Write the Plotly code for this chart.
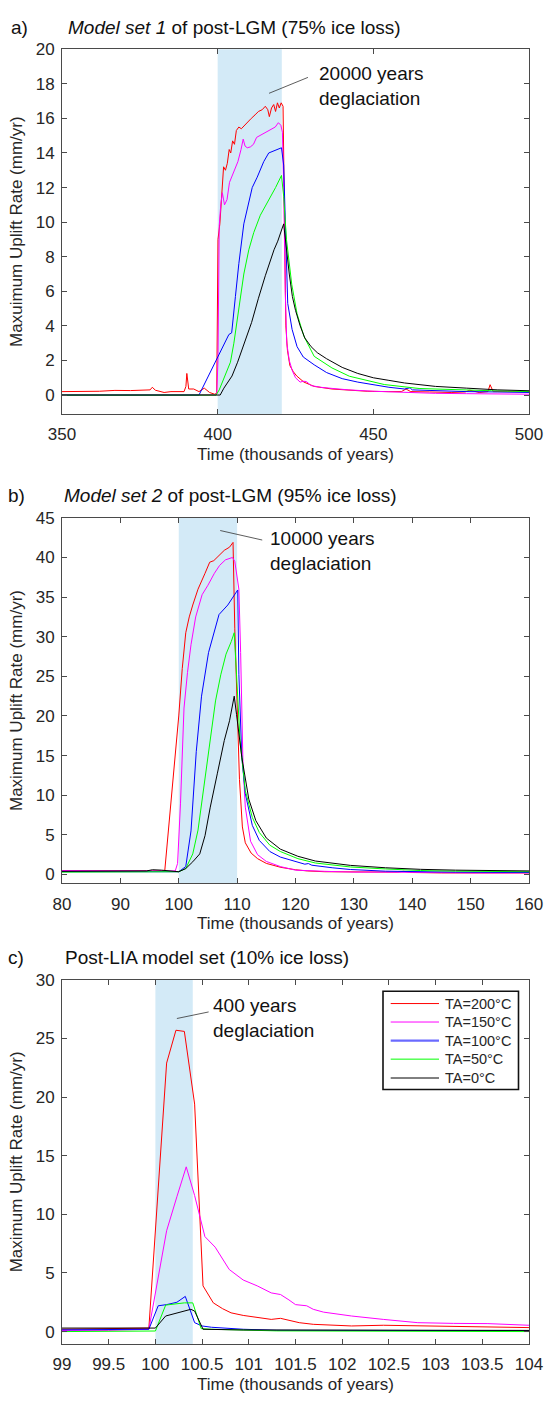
import plotly.graph_objects as go

FONT = "Liberation Sans, Arial, Helvetica, sans-serif"
LABELS = ["TA=200°C", "TA=150°C", "TA=100°C", "TA=50°C", "TA=0°C"]
COLORS = ["#ff0000", "#ff00ff", "#0000ff", "#00ff00", "#000000"]

# ---------------- Panel a: Model set 1 (x: thousands of years) ----------------
a_red_t = [350, 356, 362, 367, 372, 378.3, 379, 380, 382.8, 385, 389.2, 389.8, 390.1, 390.7, 392.3, 394, 395.7,
           397.4, 399, 399.7, 400.1, 400.7, 401.3, 401.9, 402.5, 403.1, 403.7, 404.2, 404.8, 405.4, 406, 406.8,
           407.6, 408.6, 409.6, 410.8, 412, 413.1, 414.3, 415.3, 416.1, 416.6, 417.3, 418, 418.6, 419.2, 419.8,
           420.4, 421.0, 421.4, 421.9, 422.4, 423.2, 424.3, 425.4, 427.7, 431, 436.7, 442, 448, 455, 459, 460.5,
           462, 468, 475, 479.5, 481, 484, 486.8, 487.5, 488.5, 493, 500]
a_red_v = [0.2, 0.2, 0.22, 0.27, 0.26, 0.3, 0.45, 0.28, 0.15, 0.2, 0.2, 0.5, 1.25, 0.35, 0.35, 0.2, 0.4,
           0.15, 0.05, 0.1, 9.0, 9.9, 11.8, 13.2, 13.0, 13.4, 14.2, 14.0, 14.7, 14.5, 15.3, 15.5,
           15.4, 15.6, 15.8, 16.0, 16.2, 16.4, 16.5, 16.7, 16.5, 16.1, 16.6, 16.8, 16.4, 16.9, 16.6,
           16.9, 16.7, 12.0, 4.0, 2.6, 1.7, 1.35, 1.1, 0.75, 0.5, 0.35, 0.28, 0.22, 0.2, 0.2, 0.35,
           0.2, 0.18, 0.15, 0.18, 0.28, 0.15, 0.2, 0.6, 0.2, 0.2, 0.2]

a_mag_t = [350, 399.7, 400.1, 400.5, 401.0, 401.5, 402.2, 403.0, 403.8, 404.5, 405.5, 406.5, 407.5, 408.2,
           408.8, 409.5, 410.5, 411.5, 412.5, 413.5, 414.5, 415.5, 416.5, 417.5, 418.5, 419.5, 420.3, 420.8,
           421.2, 421.7, 422.2, 423.0, 424.0, 425.0, 426.5, 427.5, 428.5, 430, 433, 437, 442, 450, 460, 470,
           480, 490, 500]
a_mag_v = [0.02, 0.02, 2.0, 9.8, 11.0, 11.7, 11.0, 11.3, 12.3, 12.6, 13.1, 13.5, 14.2, 14.8,
           14.4, 14.3, 14.35, 14.5, 14.9, 15.0, 15.1, 15.2, 15.3, 15.4, 15.5, 15.75, 15.6, 15.2,
           12.0, 6.0, 3.0, 2.0, 1.4, 1.0, 0.75, 0.8, 0.78, 0.55, 0.45, 0.38, 0.3, 0.22, 0.15, 0.1,
           0.08, 0.07, 0.05]

a_blu_t = [350, 394, 403.6, 404.5, 405.7, 406.8, 408.4, 409.6, 411.1, 412.7, 414.8, 416.4, 418.0, 419.5,
           420.5, 421.2, 421.8, 422.5, 423.9, 425.5, 427.5, 429.8, 431, 435, 440, 445, 450, 455, 460, 461.8,
           462.5, 470, 480, 490, 500]
a_blu_v = [0, 0, 3.5, 3.6, 5.7, 7.6, 9.9, 10.9, 12.0, 12.6, 13.5, 14.0, 14.1, 14.2,
           14.3, 13.3, 9.1, 5.3, 3.8, 2.8, 2.2, 1.9, 1.75, 1.3, 0.95, 0.75, 0.6, 0.45, 0.35, 0.42,
           0.3, 0.25, 0.2, 0.18, 0.15]

a_grn_t = [350, 399.5, 400.5, 402.0, 404.1, 405.2, 406.8, 408.4, 410, 411.6, 413.7, 415.9, 418.6, 420.5,
           421.2, 422.1, 423.8, 425.5, 427.7, 431, 436.7, 442.3, 453.5, 464.7, 476, 488, 500]
a_grn_v = [0, 0, 0.3, 1.0, 1.9, 3.0, 5.0, 7.0, 8.4, 9.4, 10.4, 11.1, 12.0, 12.7,
           11.5, 9.0, 6.4, 4.7, 3.4, 2.24, 1.57, 1.09, 0.61, 0.38, 0.3, 0.25, 0.2]

a_blk_t = [350, 400.8, 402, 403, 404.6, 406.4, 408.6, 410.9, 413.1, 415.3, 418.1, 419.3, 421.2, 422, 423,
           424, 425, 426.5, 428, 430, 432, 435, 440, 445, 450, 455, 460, 465, 470, 480, 490, 500]
a_blk_v = [0, 0, 0.4, 0.7, 1.1, 1.9, 3.0, 4.2, 5.6, 6.9, 8.4, 8.9, 9.9, 8.5, 7.0,
           5.7, 4.9, 4.0, 3.3, 2.8, 2.45, 2.1, 1.6, 1.25, 1.0, 0.85, 0.7, 0.6, 0.5, 0.4, 0.3, 0.25]

# ---------------- Panel b: Model set 2 ----------------
b_red_t = [80, 90, 95.5, 97.6, 100, 100.6, 101.2, 101.8, 102.4, 103.3, 104.5, 105.3, 106, 106.9, 107.8,
           108.7, 109.3, 109.6, 110.0, 110.4, 110.9, 111.4, 112.4, 113.5, 115, 117.5, 120, 122, 125, 130,
           135, 137.5, 138.5, 140, 145, 150, 155, 160]
b_red_v = [0.5, 0.5, 0.5, 0.45, 20.0, 26.0, 30.5, 32.5, 34.0, 36.0, 38.0, 39.4, 39.6, 40.3, 40.9,
           41.3, 41.9, 31.0, 20.0, 12.0, 6.0, 4.0, 2.7, 2.0, 1.4, 0.9, 0.6, 0.45, 0.35, 0.3,
           0.25, 0.3, 0.4, 0.25, 0.2, 0.2, 0.2, 0.2]

b_mag_t = [80, 90, 99.4, 99.8, 100.3, 100.9, 101.5, 102.1, 102.9, 104.0, 105.0, 106.1, 107.0, 108.0,
           109.2, 109.6, 110.0, 110.3, 110.6, 111.0, 111.4, 112.3, 113.5, 115, 117.4, 120, 125, 130, 135,
           140, 150, 160]
b_mag_v = [0.5, 0.5, 0.45, 1.4, 9.0, 21.0, 25.5, 29.0, 32.5, 35.3, 36.5, 38.0, 39.0, 39.7,
           40.0, 39.5, 37.5, 36.0, 28.0, 14.0, 8.5, 4.2, 2.5, 1.65, 1.0, 0.55, 0.4, 0.3, 0.3,
           0.25, 0.2, 0.2]

b_blu_t = [80, 90, 100, 101.2, 102.1, 103.0, 103.9, 105.1, 106.0, 106.9, 108.4, 109.6, 110.1, 110.3,
           110.8, 111.4, 112.6, 113.8, 115.6, 117.4, 119.2, 121.6, 122.2, 122.8, 126.4, 129.4, 135.4,
           141.4, 147.4, 160]
b_blu_v = [0.35, 0.35, 0.35, 1.0, 5.5, 15.5, 22.5, 28.0, 30.3, 32.8, 34.0, 35.3, 35.9, 25.2,
           14.8, 10.2, 6.2, 4.3, 2.9, 2.2, 1.8, 1.3, 1.38, 1.17, 0.84, 0.63, 0.42,
           0.33, 0.3, 0.25]

b_grn_t = [80, 90, 100, 101.2, 102.4, 103.3, 104.2, 105.1, 106.3, 107.2, 108.1, 109.0, 109.5, 109.9,
           110.5, 111.4, 112.6, 113.8, 115.6, 117.4, 120.4, 123.4, 129.4, 135.4, 141.4, 147.4, 160]
b_grn_v = [0.3, 0.3, 0.35, 0.75, 2.6, 5.6, 10.6, 15.6, 21.9, 25.2, 27.8, 29.4, 30.5, 25.2,
           16.9, 10.6, 7.2, 5.3, 3.7, 2.9, 2.0, 1.45, 0.95, 0.7, 0.5, 0.42, 0.35]

b_blk_t = [80, 90, 94.5, 95.5, 97, 100, 101.2, 102.4, 103.6, 104.5, 105.4, 106.6, 107.8, 108.7, 109.5,
           109.9, 110.8, 112, 113.2, 115, 117.4, 120.4, 123.4, 129.4, 135.4, 141.4, 147.4, 160]
b_blk_v = [0.4, 0.45, 0.45, 0.6, 0.55, 0.35, 0.75, 1.6, 2.6, 4.9, 8.5, 12.7, 16.9, 19.4, 22.5,
           20.2, 14.8, 9.5, 6.8, 4.6, 3.2, 2.3, 1.7, 1.15, 0.85, 0.65, 0.55, 0.45]

# ---------------- Panel c: Post-LIA model set ----------------
c_red_t = [99, 99.5, 99.93, 100.12, 100.22, 100.31, 100.42, 100.51, 100.62, 100.72, 100.81, 100.94, 101.09,
           101.24, 101.34, 101.43, 101.54, 101.69, 101.92, 102.1, 102.44, 102.81, 103.19, 103.56, 104]
c_red_v = [0.2, 0.25, 0.3, 22.9, 25.7, 25.6, 19.4, 3.9, 2.45, 1.95, 1.6, 1.38, 1.24,
           1.04, 1.13, 0.99, 0.76, 0.62, 0.54, 0.48, 0.54, 0.48, 0.48, 0.42, 0.34]

c_mag_t = [99, 99.5, 99.93, 100.12, 100.23, 100.33, 100.42, 100.53, 100.64, 100.79, 100.94, 101.09, 101.24,
           101.34, 101.43, 101.5, 101.62, 101.69, 101.8, 101.95, 102.1, 102.44, 102.81, 103.19, 103.56, 104]
c_mag_v = [0.1, 0.1, 0.2, 8.6, 11.5, 14.05, 11.6, 8.1, 7.2, 5.3, 4.4, 3.9, 3.3,
           3.16, 2.7, 2.3, 2.2, 1.9, 1.66, 1.47, 1.33, 1.04, 0.76, 0.7, 0.68, 0.54]

c_blu_t = [99, 99.93, 100.03, 100.12, 100.23, 100.32, 100.42, 100.5, 100.6, 100.94, 101.3, 104]
c_blu_v = [0.15, 0.2, 2.2, 2.3, 2.5, 3.0, 0.76, 0.48, 0.37, 0.2, 0.11, 0.08]

c_grn_t = [99, 100.0, 100.11, 100.31, 100.4, 100.49, 100.6, 101.3, 104]
c_grn_v = [0.0, 0.05, 2.26, 2.45, 2.45, 0.25, 0.2, 0.06, 0.0]

c_blk_t = [99, 100.0, 100.11, 100.23, 100.38, 100.42, 100.51, 100.94, 104]
c_blk_v = [0.3, 0.3, 1.33, 1.6, 1.9, 1.75, 0.2, 0.14, 0.1]

# deglaciation windows (thousands of years)
a_shade = [400, 420.6]
b_shade = [100, 110]
c_shade = [100, 100.4]

panels = [
    ("x", "y", [(a_red_t, a_red_v), (a_mag_t, a_mag_v), (a_blu_t, a_blu_v), (a_grn_t, a_grn_v), (a_blk_t, a_blk_v)]),
    ("x2", "y2", [(b_red_t, b_red_v), (b_mag_t, b_mag_v), (b_blu_t, b_blu_v), (b_grn_t, b_grn_v), (b_blk_t, b_blk_v)]),
    ("x3", "y3", [(c_red_t, c_red_v), (c_mag_t, c_mag_v), (c_blu_t, c_blu_v), (c_grn_t, c_grn_v), (c_blk_t, c_blk_v)]),
]

fig = go.Figure()
for pi, (xa, ya, series) in enumerate(panels):
    for si, (t, v) in enumerate(series):
        assert len(t) == len(v), (pi, si, len(t), len(v))
        fig.add_trace(go.Scatter(
            x=t, y=v, xaxis=xa, yaxis=ya, mode="lines",
            line=dict(color=COLORS[si], width=1),
            name=LABELS[si], legendgroup=LABELS[si], showlegend=False,
        ))

W, H = 547, 1401
L, R = 62, 18
PW = W - L - R


def fy(px):
    return 1 - px / H


def fx(px):
    return (px - L) / PW


AXC = "#4a4a4a"
axis_common = dict(
    showline=True, linecolor=AXC, linewidth=1, mirror="ticks",
    ticks="inside", ticklen=5, tickcolor=AXC, tickwidth=1,
    showgrid=False, zeroline=False,
    tickfont=dict(family=FONT, size=17, color="#262626"),
)


def xax(rng, dtick, anchor):
    return dict(axis_common, range=rng, dtick=dtick, tick0=rng[0], anchor=anchor, domain=[0, 1],
                ticklabelstandoff=5,
                title=dict(text="Time (thousands of years)", font=dict(family=FONT, size=17, color="#262626"),
                           standoff=4))


def yax(rng, dtick, anchor, dom, title):
    return dict(axis_common, range=rng, dtick=dtick, tick0=0, anchor=anchor, domain=dom,
                ticklabelstandoff=3,
                title=dict(text=title, font=dict(family=FONT, size=17, color="#262626"), standoff=8))


fig.update_layout(
    width=W, height=H,
    margin=dict(l=L, r=R, t=0, b=0),
    paper_bgcolor="white", plot_bgcolor="white",
    font=dict(family=FONT, size=17, color="#262626"),
    xaxis=xax([350, 500], 50, "y"),
    yaxis=yax([-1.1, 20], 2, "x", [fy(408), fy(40.5)], "Maxuimum Uplift Rate (mm/yr)"),
    xaxis2=xax([80, 160], 10, "y2"),
    yaxis2=yax([-1.1, 45], 5, "x2", [fy(880.5), fy(512.5)], "Maximum Uplift Rate (mm/yr)"),
    xaxis3=xax([99, 104], 0.5, "y3"),
    yaxis3=yax([-1.05, 30], 5, "x3", [fy(1344.5), fy(977.8)], "Maximum Uplift Rate (mm/yr)"),
    showlegend=False,
)

SHADE = "rgb(211,234,247)"
for xa, ya, sh in [("x", "y", a_shade), ("x2", "y2", b_shade), ("x3", "y3", c_shade)]:
    fig.add_shape(type="rect", xref=xa, yref=ya + " domain", x0=sh[0], x1=sh[1], y0=0, y1=1,
                  fillcolor=SHADE, line=dict(width=0), layer="below")

# leader lines and labels for the deglaciation windows
notes = [
    ("x", "y", "20000 years<br>deglaciation", 432, 17.85, (416.5, 17.45, 429.0, 18.37)),
    ("x2", "y2", "10000 years<br>deglaciation", 115.3, 40.85, (107.1, 43.4, 114.3, 42.2)),
    ("x3", "y3", "400 years<br>deglaciation", 100.595, 26.75, (100.23, 26.7, 100.57, 27.26)),
]
for xa, ya, txt, tx, ty, (x0, y0, x1, y1) in notes:
    fig.add_shape(type="line", xref=xa, yref=ya, x0=x0, y0=y0, x1=x1, y1=y1,
                  line=dict(color="#333333", width=0.8))
    fig.add_annotation(xref=xa, yref=ya, x=tx, y=ty, text=txt, showarrow=False, xanchor="left",
                       yanchor="middle", align="left", font=dict(family=FONT, size=19, color="#111111"))

# panel titles
titles = [
    ("a)", 9, "<i>Model set 1</i> of post-LGM (75% ice loss)", 65.5, 18.5),
    ("b)", 6, "<i>Model set 2</i> of post-LGM (95% ice loss)", 61.5, 490),
    ("c)", 6, "Post-LIA model set (10% ice loss)", 63, 955),
]
for lab, lx, ttl, tx, ty in titles:
    fig.add_annotation(xref="paper", yref="paper", x=fx(lx), y=fy(ty), text=lab, showarrow=False,
                       xanchor="left", yanchor="middle", font=dict(family=FONT, size=19, color="#111111"))
    fig.add_annotation(xref="paper", yref="paper", x=fx(tx), y=fy(ty), text=ttl, showarrow=False,
                       xanchor="left", yanchor="middle", font=dict(family=FONT, size=19, color="#111111"))

# legend of panel c (box, line samples and labels)
LEG_BOX = (383, 989.3, 518.5, 1088.3)
LEG_ROWS = [1001.7, 1020.3, 1039.0, 1057.7, 1076.7]
LEG_WIDTHS = [1, 1, 2.2, 1, 1]
LEG_COLS = ["#ff0000", "#ff00ff", "#6a6aff", "#00ff00", "#000000"]
fig.add_shape(type="rect", xref="paper", yref="paper", x0=fx(LEG_BOX[0]), x1=fx(LEG_BOX[2]),
              y0=fy(LEG_BOX[3]), y1=fy(LEG_BOX[1]), fillcolor="white",
              line=dict(color="#111111", width=1.6), layer="above")
for i, row in enumerate(LEG_ROWS):
    fig.add_shape(type="line", xref="paper", yref="paper", x0=fx(390.7), x1=fx(439), y0=fy(row), y1=fy(row),
                  line=dict(color=LEG_COLS[i], width=LEG_WIDTHS[i]), layer="above")
    fig.add_annotation(xref="paper", yref="paper", x=fx(442.5), y=fy(row), text=LABELS[i], showarrow=False,
                       xanchor="left", yanchor="middle", font=dict(family=FONT, size=14.5, color="#262626"))

fig.write_html("out.html", config={"displayModeBar": False},
               post_script="document.body.style.margin='0px';document.body.style.overflow='hidden';")
